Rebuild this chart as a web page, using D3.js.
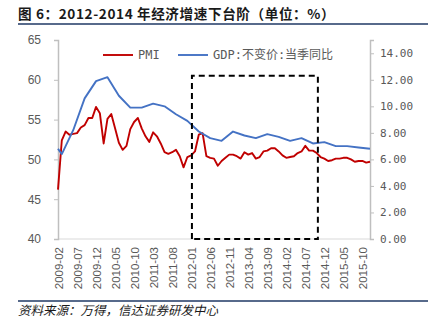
<!DOCTYPE html>
<html>
<head>
<meta charset="utf-8">
<script src="https://cdn.jsdelivr.net/npm/d3@7"></script>
<style>
  html, body { margin: 0; padding: 0; background: #fff; }
  svg { display: block; }
</style>
</head>
<body>
<svg id="chart" width="434" height="333"></svg>
<script>
// ---------- data ----------
const firstMonth = "2009-02";
const lastMonth = "2015-12";
const pmiValues = [
  46.2, 52.4, 53.5, 53.1, 53.2, 53.3, 54.0, 54.3, 55.2, 55.2, 56.6,
  55.8, 52.0, 55.1, 55.7, 53.9, 52.1, 51.2, 51.7, 53.8, 54.7, 55.2, 53.9,
  52.9, 52.2, 53.4, 52.9, 52.0, 50.9, 50.7, 50.9, 51.2, 50.4, 49.0, 50.3,
  50.5, 51.0, 53.1, 53.3, 50.4, 50.2, 50.1, 49.2, 49.8, 50.2, 50.6, 50.6,
  50.4, 50.1, 50.9, 50.6, 50.8, 50.1, 50.3, 51.0, 51.1, 51.4, 51.4, 51.0,
  50.5, 50.2, 50.3, 50.4, 50.8, 51.0, 51.7, 51.1, 51.1, 50.8, 50.3, 50.1,
  49.8, 49.9, 50.1, 50.1, 50.2, 50.2, 50.0, 49.7, 49.8, 49.8, 49.6, 49.7
];
const gdpMonths = [
  "2009-02","2009-03","2009-06","2009-09","2009-12",
  "2010-03","2010-06","2010-09","2010-12",
  "2011-03","2011-06","2011-09","2011-12",
  "2012-03","2012-06","2012-09","2012-12",
  "2013-03","2013-06","2013-09","2013-12",
  "2014-03","2014-06","2014-09","2014-12",
  "2015-03","2015-06","2015-09","2015-12"
];
const gdpValues = [
  6.8, 6.4, 8.2, 10.6, 11.9,
  12.2, 10.8, 9.9, 9.9,
  10.2, 10.0, 9.4, 8.9,
  8.1, 7.6, 7.4, 8.1,
  7.8, 7.6, 7.9, 7.7,
  7.4, 7.6, 7.2, 7.3,
  7.0, 7.0, 6.9, 6.8
];
const leftTicks = [40, 45, 50, 55, 60, 65];
const rightTicks = [0, 2, 4, 6, 8, 10, 12, 14];
const seriesNames = ["PMI", "GDP:不变价:当季同比"];
const titleText = "图 6：2012-2014 年经济增速下台阶（单位：%）";
const sourceText = "资料来源：万得，信达证券研发中心";

// categories (monthly)
const fmt = d3.utcFormat("%Y-%m");
const parse = d3.utcParse("%Y-%m");
const months = d3.utcMonth.range(parse(firstMonth), d3.utcMonth.offset(parse(lastMonth), 1)).map(fmt);
const labelMonths = months.filter((m, i) => i % 5 === 0);

// ---------- layout ----------
const svg = d3.select("#chart");
const L = 58, R = 370, T = 40, B = 239;
const x = d3.scalePoint().domain(months).range([L, R]);
const xi = d3.scaleLinear().domain([0, months.length - 1]).range([L, R]);
const yL = d3.scaleLinear().domain([40, 65]).range([B, T]);
const yR = d3.scaleLinear().domain([0, 15]).range([B, T]);

const grey = "#595959";
const axisCol = "#bfbfbf";
const red = "#C00000";
const blue = "#4472C4";
const navy = "#1F3864";

svg.append("rect").attr("width", 434).attr("height", 333).attr("fill", "#fff");

// title
svg.append("text")
  .attr("x", 18).attr("y", 19)
  .attr("font-family", "'Noto Sans CJK SC', sans-serif")
  .attr("font-weight", "bold")
  .attr("font-size", "13.6px")
  .attr("letter-spacing", "0.6px")
  .attr("fill", "#1a1a1a")
  .attr("xml:space", "preserve")
  .text(titleText);
svg.append("line").attr("x1", 18).attr("x2", 428).attr("y1", 24).attr("y2", 24)
  .attr("stroke", navy).attr("stroke-width", 1.5);

// bottom axis line
svg.append("line").attr("x1", L).attr("x2", R).attr("y1", B).attr("y2", B)
  .attr("stroke", "#d9d9d9").attr("stroke-width", 1.2);

// left axis
const gL = svg.append("g").attr("transform", `translate(${L},0)`)
  .call(d3.axisLeft(yL).tickValues(leftTicks).tickSize(4).tickPadding(13).tickFormat(d3.format("d")));
gL.select(".domain").attr("stroke", axisCol).attr("stroke-width", 1.5);
gL.selectAll(".tick line").attr("stroke", axisCol);
gL.selectAll(".tick text").attr("fill", grey)
  .attr("font-family", "'Liberation Sans', Arial, sans-serif").attr("font-size", "12px");

// right axis
const gR = svg.append("g").attr("transform", `translate(${R},0)`)
  .call(d3.axisRight(yR).tickValues(rightTicks).tickSize(4).tickPadding(6).tickFormat(d3.format(".2f")));
gR.select(".domain").attr("stroke", axisCol).attr("stroke-width", 1.5);
gR.selectAll(".tick line").attr("stroke", axisCol);
gR.selectAll(".tick text").attr("fill", grey)
  .attr("font-family", "'DejaVu Sans Mono', monospace").attr("font-size", "11px");

// x labels
svg.append("g").selectAll("text").data(labelMonths).join("text")
  .attr("transform", d => `translate(${x(d) + 1},${B + 8}) rotate(-90)`)
  .attr("text-anchor", "end")
  .attr("dy", "0.35em")
  .attr("fill", grey)
  .attr("font-family", "'Liberation Sans', Arial, sans-serif")
  .attr("font-size", "11.5px")
  .text(d => d);

// lines
const pmiLine = d3.line().x((d, i) => x(months[i])).y(d => yL(d));
svg.append("path").datum(pmiValues)
  .attr("d", pmiLine).attr("fill", "none")
  .attr("stroke", red).attr("stroke-width", 1.9).attr("stroke-linejoin", "round");

const gdpLine = d3.line().x((d, i) => x(gdpMonths[i])).y(d => yR(d));
svg.append("path").datum(gdpValues)
  .attr("d", gdpLine).attr("fill", "none")
  .attr("stroke", blue).attr("stroke-width", 1.9).attr("stroke-linejoin", "round");

// dashed highlight box
const bx0 = xi(35.2), bx1 = xi(68.3), by0 = yL(60.5), by1 = yL(40);
svg.append("path")
  .attr("d", `M${bx0},${by1}V${by0}H${bx1}V${by1}Z`)
  .attr("fill", "none").attr("stroke", "#000").attr("stroke-width", 2)
  .attr("stroke-dasharray", "6,4");

// legend
const legend = svg.append("g").attr("font-family", "'DejaVu Sans Mono', 'Noto Sans CJK SC', monospace")
  .attr("font-size", "12px").attr("fill", grey);
const legItems = [
  { name: seriesNames[0], color: red, x0: 103 },
  { name: seriesNames[1], color: blue, x0: 178 }
];
legItems.forEach(it => {
  legend.append("line").attr("x1", it.x0).attr("x2", it.x0 + 30).attr("y1", 55).attr("y2", 55)
    .attr("stroke", it.color).attr("stroke-width", 1.9);
  legend.append("text").attr("x", it.x0 + 35).attr("y", 55).attr("dy", "0.35em").text(it.name);
});

// footer
svg.append("line").attr("x1", 18).attr("x2", 428).attr("y1", 301).attr("y2", 301)
  .attr("stroke", navy).attr("stroke-width", 1.5);
svg.append("text")
  .attr("x", 18).attr("y", 315)
  .attr("font-family", "'Noto Sans CJK SC', sans-serif")
  .attr("font-style", "italic")
  .attr("font-size", "12.5px")
  .attr("fill", "#1a1a1a")
  .text(sourceText);
</script>
</body>
</html>
